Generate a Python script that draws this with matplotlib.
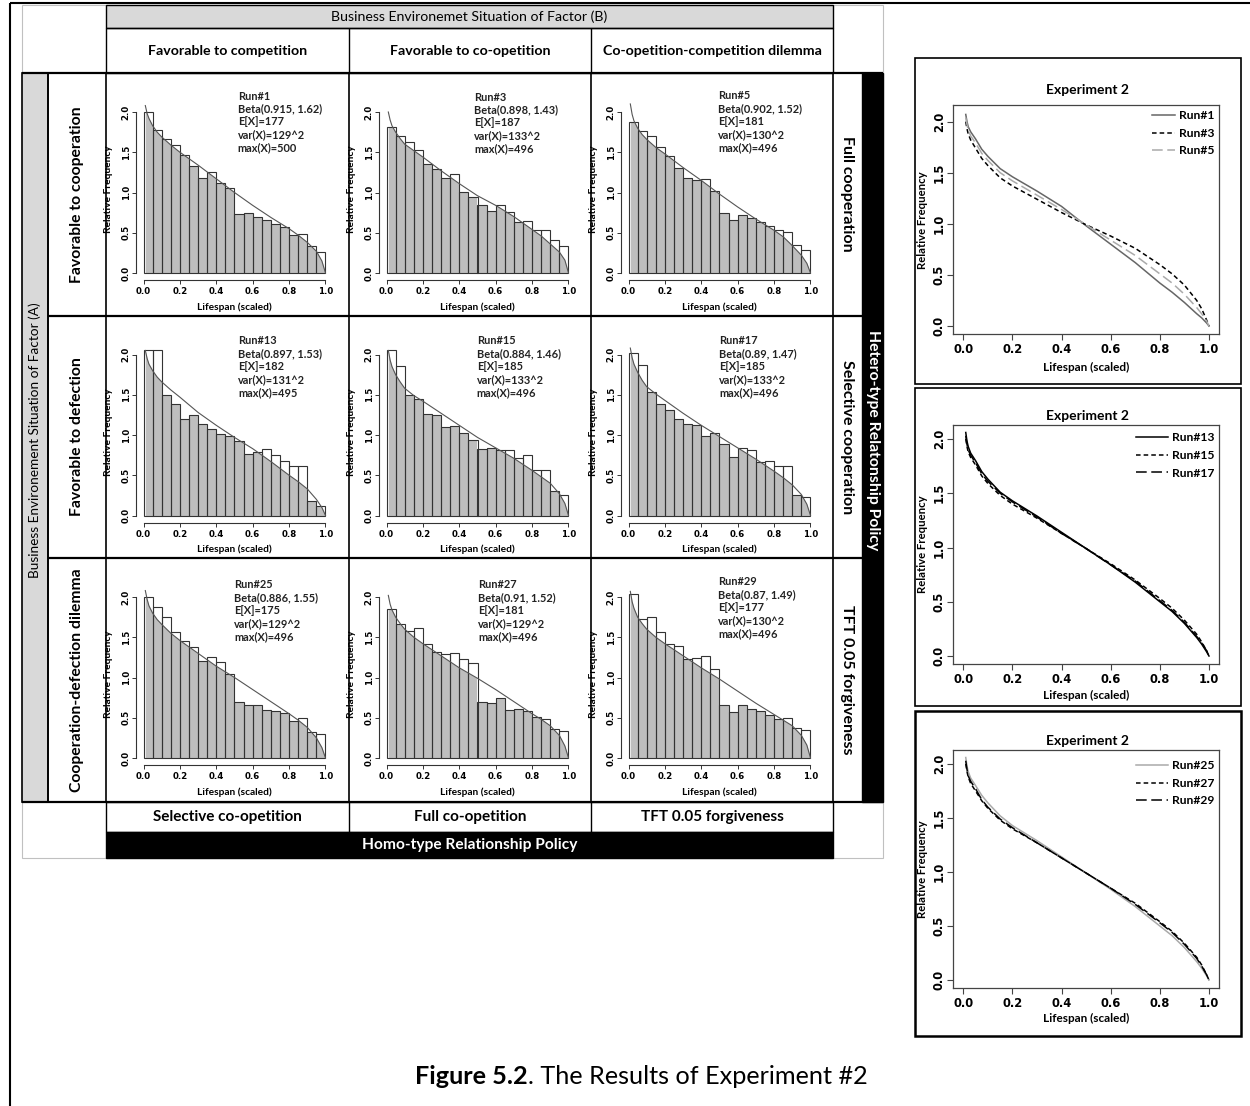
import numpy as np
import matplotlib.pyplot as plt
from matplotlib.patches import Rectangle, PathPatch
from matplotlib.path import Path

plt.rcParams['font.family'] = ['Lato', 'DejaVu Sans']

# ---- histogram panels: 20 bins of width 0.05 on the scaled lifespan ----
bin_edges = np.linspace(0, 1, 21)
runs = ['Run#1', 'Run#3', 'Run#5', 'Run#13', 'Run#15', 'Run#17', 'Run#25', 'Run#27', 'Run#29']
betas = ['0.915, 1.62', '0.898, 1.43', '0.902, 1.52', '0.897, 1.53', '0.884, 1.46',
         '0.89, 1.47', '0.886, 1.55', '0.91, 1.52', '0.87, 1.49']
means = [177, 187, 181, 182, 185, 185, 175, 181, 177]
sds = [129, 133, 130, 131, 133, 133, 129, 129, 130]
maxes = [500, 496, 496, 495, 496, 496, 496, 496, 496]

hist1 = [2.00, 1.78, 1.67, 1.59, 1.46, 1.33, 1.18, 1.26, 1.12, 1.06, 0.73, 0.74, 0.70, 0.66, 0.61, 0.57, 0.47, 0.48, 0.33, 0.26]
hist3 = [1.81, 1.70, 1.63, 1.53, 1.36, 1.29, 1.18, 1.23, 1.01, 0.94, 0.85, 0.77, 0.84, 0.76, 0.63, 0.65, 0.54, 0.54, 0.41, 0.33]
hist5 = [1.88, 1.76, 1.70, 1.56, 1.45, 1.31, 1.18, 1.15, 1.17, 1.02, 0.75, 0.66, 0.72, 0.68, 0.63, 0.58, 0.53, 0.51, 0.35, 0.29]
hist13 = [2.05, 2.05, 1.50, 1.38, 1.20, 1.25, 1.14, 1.07, 1.01, 0.99, 0.92, 0.77, 0.79, 0.82, 0.75, 0.68, 0.62, 0.62, 0.18, 0.12]
hist15 = [2.06, 1.86, 1.50, 1.45, 1.26, 1.25, 1.10, 1.11, 1.02, 0.94, 0.83, 0.84, 0.81, 0.81, 0.72, 0.75, 0.57, 0.56, 0.30, 0.25]
hist17 = [2.02, 1.87, 1.53, 1.38, 1.31, 1.20, 1.14, 1.13, 0.99, 1.03, 0.89, 0.73, 0.84, 0.81, 0.67, 0.68, 0.61, 0.61, 0.26, 0.23]
hist25 = [2.00, 1.87, 1.75, 1.56, 1.45, 1.38, 1.21, 1.26, 1.19, 1.04, 0.69, 0.66, 0.66, 0.60, 0.58, 0.56, 0.46, 0.50, 0.32, 0.30]
hist27 = [1.85, 1.66, 1.58, 1.61, 1.41, 1.32, 1.29, 1.30, 1.23, 1.18, 0.70, 0.68, 0.75, 0.60, 0.61, 0.58, 0.51, 0.48, 0.36, 0.34]
hist29 = [2.04, 1.73, 1.75, 1.56, 1.41, 1.39, 1.23, 1.24, 1.27, 1.11, 0.66, 0.57, 0.66, 0.61, 0.59, 0.54, 0.49, 0.50, 0.37, 0.35]
hists = [hist1, hist3, hist5, hist13, hist15, hist17, hist25, hist27, hist29]

# fitted density drawn over each histogram
fit_x = [0.01, 0.02, 0.03, 0.05, 0.075, 0.1, 0.15, 0.2, 0.3, 0.4, 0.5, 0.6, 0.7, 0.8, 0.85, 0.9, 0.95, 0.98, 1.0]
fit1 = [2.08, 1.98, 1.92, 1.83, 1.75, 1.69, 1.59, 1.50, 1.34, 1.17, 1.00, 0.84, 0.69, 0.55, 0.47, 0.38, 0.27, 0.15, 0.0]
fit3 = [2.00, 1.90, 1.83, 1.75, 1.67, 1.60, 1.52, 1.44, 1.27, 1.11, 0.96, 0.84, 0.70, 0.54, 0.46, 0.36, 0.26, 0.16, 0.0]
fit5 = [2.10, 1.97, 1.89, 1.80, 1.72, 1.66, 1.56, 1.48, 1.31, 1.15, 0.98, 0.82, 0.67, 0.53, 0.45, 0.34, 0.22, 0.12, 0.0]
fit13 = [2.05, 1.95, 1.88, 1.80, 1.72, 1.66, 1.56, 1.47, 1.28, 1.12, 0.97, 0.83, 0.67, 0.50, 0.42, 0.33, 0.20, 0.10, 0.0]
fit15 = [2.05, 1.93, 1.85, 1.75, 1.66, 1.58, 1.49, 1.42, 1.27, 1.12, 0.97, 0.84, 0.71, 0.56, 0.48, 0.40, 0.27, 0.15, 0.0]
fit17 = [2.08, 1.96, 1.88, 1.78, 1.68, 1.60, 1.51, 1.43, 1.27, 1.12, 0.98, 0.84, 0.70, 0.55, 0.47, 0.38, 0.26, 0.14, 0.0]
fit25 = [2.08, 1.97, 1.89, 1.80, 1.72, 1.66, 1.55, 1.46, 1.30, 1.14, 1.00, 0.85, 0.70, 0.55, 0.47, 0.38, 0.25, 0.13, 0.0]
fit27 = [2.02, 1.91, 1.84, 1.75, 1.67, 1.60, 1.50, 1.42, 1.27, 1.12, 0.99, 0.85, 0.70, 0.55, 0.48, 0.40, 0.28, 0.15, 0.0]
fit29 = [2.07, 1.94, 1.86, 1.75, 1.67, 1.60, 1.50, 1.42, 1.27, 1.12, 0.98, 0.83, 0.68, 0.54, 0.47, 0.40, 0.28, 0.16, 0.0]
fits = [fit1, fit3, fit5, fit13, fit15, fit17, fit25, fit27, fit29]

# ---- comparison curves (right column) ----
cmp_x = [0.01, 0.015, 0.02, 0.03, 0.05, 0.075, 0.1, 0.15, 0.2, 0.3, 0.4, 0.5, 0.6, 0.7,
         0.8, 0.85, 0.9, 0.95, 0.97, 0.99, 1.0]
cmp1 = [2.07, 2.00, 1.95, 1.90, 1.83, 1.73, 1.66, 1.54, 1.46, 1.32, 1.17, 0.98, 0.80, 0.62,
        0.42, 0.33, 0.23, 0.12, 0.08, 0.03, 0.0]
cmp3 = [2.00, 1.93, 1.88, 1.82, 1.74, 1.64, 1.57, 1.45, 1.37, 1.24, 1.11, 0.99, 0.88, 0.76,
        0.60, 0.51, 0.40, 0.25, 0.17, 0.06, 0.0]
cmp5 = [2.04, 1.97, 1.92, 1.86, 1.79, 1.69, 1.62, 1.50, 1.42, 1.28, 1.14, 0.99, 0.84, 0.69,
        0.51, 0.42, 0.31, 0.18, 0.12, 0.05, 0.0]
cmp13 = [2.06, 1.98, 1.93, 1.87, 1.80, 1.70, 1.63, 1.51, 1.43, 1.29, 1.14, 0.99, 0.84, 0.68,
         0.50, 0.41, 0.30, 0.17, 0.11, 0.04, 0.0]
cmp15 = [2.00, 1.93, 1.88, 1.83, 1.76, 1.66, 1.59, 1.48, 1.40, 1.27, 1.13, 0.99, 0.85, 0.70,
         0.53, 0.44, 0.33, 0.20, 0.13, 0.05, 0.0]
cmp17 = [2.03, 1.95, 1.90, 1.85, 1.78, 1.68, 1.61, 1.50, 1.42, 1.28, 1.13, 0.99, 0.84, 0.69,
         0.51, 0.42, 0.31, 0.18, 0.12, 0.05, 0.0]
cmp25 = [2.06, 1.98, 1.93, 1.87, 1.80, 1.71, 1.64, 1.52, 1.43, 1.29, 1.14, 0.99, 0.84, 0.68,
         0.50, 0.41, 0.30, 0.17, 0.11, 0.04, 0.0]
cmp27 = [2.00, 1.93, 1.88, 1.82, 1.75, 1.66, 1.59, 1.48, 1.40, 1.27, 1.13, 0.99, 0.85, 0.71,
         0.54, 0.45, 0.34, 0.21, 0.14, 0.05, 0.0]
cmp29 = [2.03, 1.95, 1.89, 1.84, 1.77, 1.67, 1.60, 1.49, 1.41, 1.27, 1.13, 0.99, 0.85, 0.70,
         0.53, 0.44, 0.33, 0.20, 0.13, 0.05, 0.0]
cmp_groups = [(['Run#1', 'Run#3', 'Run#5'], [cmp1, cmp3, cmp5]),
              (['Run#13', 'Run#15', 'Run#17'], [cmp13, cmp15, cmp17]),
              (['Run#25', 'Run#27', 'Run#29'], [cmp25, cmp27, cmp29])]

col_labels = ['Favorable to competition', 'Favorable to co-opetition', 'Co-opetition-competition dilemma']
row_labels = ['Favorable to cooperation', 'Favorable to defection', 'Cooperation-defection dilemma']
right_labels = ['Full cooperation', 'Selective cooperation', 'TFT 0.05 forgiveness']
bottom_labels = ['Selective co-opetition', 'Full co-opetition', 'TFT 0.05 forgiveness']

W, H = 1250, 1106
fig = plt.figure(figsize=(W / 100, H / 100), dpi=100)


def frac(x0, y0, x1, y1):
    # pixel box (top-left origin) -> figure fraction rect
    return [x0 / W, 1 - y1 / H, (x1 - x0) / W, (y1 - y0) / H]


bg = fig.add_axes([0, 0, 1, 1])
bg.set_xlim(0, W)
bg.set_ylim(H, 0)
bg.axis('off')


def rect(x0, y0, x1, y1, fc='none', ec='black', lw=1.0):
    bg.add_patch(Rectangle((x0, y0), x1 - x0, y1 - y0, facecolor=fc, edgecolor=ec, linewidth=lw))


def line(xs, ys, lw=1.0, c='black'):
    bg.plot(xs, ys, color=c, lw=lw, solid_capstyle='butt')


# page frame
line([10, W], [3, 3], lw=1.5)
line([10, 10], [3, H], lw=1.5)

# table
col_x = [106, 349, 591, 833]
row_y = [73, 315.5, 558, 802]
rect(22, 5, 883, 858, ec='#c0c0c0', lw=0.8)
rect(106, 5, 833, 28, fc='#d9d9d9', lw=1.0)
rect(106, 28, 833, 73, lw=1.0)
for x in col_x[1:3]:
    line([x, x], [28, 73])
    line([x, x], [802, 832])
rect(22, 73, 48, 802, fc='#d9d9d9', lw=1.2)
rect(862, 73, 883, 802, fc='black', lw=1.0)
for y in [row_y[0], row_y[3]]:
    line([22, 883], [y, y], lw=1.6)
for y in row_y[1:3]:
    line([48, 862], [y, y], lw=1.6)
for x in [48] + col_x:
    line([x, x], [73, 802], lw=1.2)
rect(106, 802, 833, 832, lw=1.0)
rect(106, 832, 833, 858, fc='black', lw=1.0)

bg.text(469.5, 16.5, 'Business Environemet Situation of Factor (B)', ha='center', va='center', fontsize=10.2)
bg.text(35, 440, 'Business Environement Situation of Factor (A)', ha='center', va='center',
        rotation=90, fontsize=9.8)
bg.text(872.5, 440, 'Hetero-type Relatonship Policy', ha='center', va='center', rotation=270,
        fontsize=11.3, fontweight='bold', color='white')
bg.text(469.5, 845, 'Homo-type Relationship Policy', ha='center', va='center',
        fontsize=11.2, fontweight='bold', color='white')
for i in range(3):
    cx = (col_x[i] + col_x[i + 1]) / 2
    cy = (row_y[i] + row_y[i + 1]) / 2
    bg.text(cx, 51, col_labels[i], ha='center', va='center', fontsize=10.2, fontweight='bold')
    bg.text(cx, 817.5, bottom_labels[i], ha='center', va='center', fontsize=11, fontweight='bold')
    bg.text(77, cy, row_labels[i], ha='center', va='center', rotation=90, fontsize=11.3,
            fontweight='bold')
    bg.text(847.5, cy, right_labels[i], ha='center', va='center', rotation=270, fontsize=11.5,
            fontweight='bold')

# right column boxes
rect(915, 58, 1241, 384, lw=1.2)
rect(915, 388, 1241, 706, lw=1.2)
rect(915, 711, 1241, 1036, lw=1.8)

# caption
bg.text(528, 1077, 'Figure 5.2', ha='right', va='center', fontsize=18.2, fontweight='bold')
bg.text(528, 1077, '. The Results of Experiment #2', ha='left', va='center', fontsize=18.2)

tick_font = {'family': 'DejaVu Sans', 'weight': 'bold'}

# ---- histogram grid ----
text_pos = [(131.7, 17.5), (125.3, 18.5), (127.3, 17), (132.3, 20), (127.7, 20),
            (128.3, 20), (128.3, 21), (129.3, 21), (127.3, 18.3)]
ux, uy = 182, 80.5
for k in range(9):
    r, c = divmod(k, 3)
    x0 = col_x[c] + 37.5
    y0 = row_y[r] + 200
    ax = fig.add_axes(frac(x0 - 0.04 * ux, y0 - 2.16 * uy, x0 + 1.04 * ux, y0 + 0.09 * uy))
    ax.set_facecolor('none')
    ax.set_xlim(-0.04, 1.04)
    ax.set_ylim(-0.09, 2.16)

    heights = hists[k]
    ax.bar(bin_edges[:-1], heights, width=0.05, align='edge', facecolor='white',
           edgecolor='none', zorder=1)
    # grey area under the fitted curve, kept inside the bars
    verts, codes = [], []
    for xl, h in zip(bin_edges[:-1], heights):
        verts += [(xl, 0), (xl + 0.05, 0), (xl + 0.05, h), (xl, h), (xl, 0)]
        codes += [Path.MOVETO, Path.LINETO, Path.LINETO, Path.LINETO, Path.CLOSEPOLY]
    clip = PathPatch(Path(verts, codes), transform=ax.transData, facecolor='none', edgecolor='none')
    ax.add_patch(clip)
    fill = ax.fill_between(fit_x, fits[k], 0, color='#bebebe', lw=0, zorder=2)
    fill.set_clip_path(clip)
    ax.bar(bin_edges[:-1], heights, width=0.05, align='edge', fill=False,
           edgecolor='#333333', linewidth=0.8, zorder=3)
    ax.plot(fit_x, fits[k], color='#555555', lw=0.8, zorder=4)

    for s in ['top', 'right']:
        ax.spines[s].set_visible(False)
    ax.spines['left'].set_bounds(0, 2)
    ax.spines['bottom'].set_bounds(0, 1)
    ax.spines['left'].set_color('#333333')
    ax.spines['bottom'].set_color('#333333')
    ax.set_yticks([0, 0.5, 1.0, 1.5, 2.0])
    ax.set_yticklabels(['0.0', '0.5', '1.0', '1.5', '2.0'], rotation=90, va='center',
                       fontsize=6.2, fontdict=tick_font)
    ax.set_xticks([0, 0.2, 0.4, 0.6, 0.8, 1.0])
    ax.set_xticklabels(['0.0', '0.2', '0.4', '0.6', '0.8', '1.0'], fontsize=6.2, fontdict=tick_font)
    ax.tick_params(axis='both', length=3, width=0.7, color='#333333')
    ax.tick_params(axis='y', pad=1)
    ax.tick_params(axis='x', pad=2)
    ax.set_ylabel('Relative Frequency', fontsize=7.3, fontweight='bold')
    ax.set_xlabel('Lifespan (scaled)', fontsize=7.3, fontweight='bold')
    ax.yaxis.set_label_coords(-0.117, 0.5)
    ax.xaxis.set_label_coords(0.5, -0.122)

    tx, ty = text_pos[k]
    info = '%s\nBeta(%s)\nE[X]=%d\nvar(X)=%d^2\nmax(X)=%d' % (runs[k], betas[k], means[k], sds[k], maxes[k])
    fig.text((col_x[c] + tx) / W, 1 - (row_y[r] + ty) / H, info, ha='left', va='top',
             fontsize=7.9, fontweight='bold', color='#222222', linespacing=1.22)

# ---- comparison plots ----
cmp_zero = [326, 656, 980]
cmp_unit = [102.2, 108.5, 108]
cmp_ylim = [(-0.08, 2.16), (-0.07, 2.13), (-0.07, 2.13)]
xlabel_off = [-0.12, -0.11, -0.105]
title_y = [90, 416, 741]
legend_top = [109, 431, 759]
styles = [
    [('#666666', '-'), ('black', (0, (3, 2))), ('#aaaaaa', (0, (7, 3)))],
    [('black', '-'), ('black', (0, (3, 2))), ('black', (0, (7, 3)))],
    [('#aaaaaa', '-'), ('black', (0, (3, 2))), ('black', (0, (7, 3)))],
]
cx0, cux = 963.3, 245.7
for g, (names, curves) in enumerate(cmp_groups):
    y0, u = cmp_zero[g], cmp_unit[g]
    lo, hi = cmp_ylim[g]
    left, right = cx0 - 0.04 * cux, cx0 + 1.04 * cux
    top, bottom = y0 - hi * u, y0 - lo * u
    ax = fig.add_axes(frac(left, top, right, bottom))
    ax.set_facecolor('none')
    ax.set_xlim(-0.04, 1.04)
    ax.set_ylim(lo, hi)
    for name, ys, (col, ls) in zip(names, curves, styles[g]):
        ax.plot(cmp_x, ys, color=col, linestyle=ls, lw=1.1, label=name)
    for s in ax.spines.values():
        s.set_color('#444444')
        s.set_linewidth(0.9)
    ax.set_yticks([0, 0.5, 1.0, 1.5, 2.0])
    ax.set_yticklabels(['0.0', '0.5', '1.0', '1.5', '2.0'], rotation=90, va='center',
                       fontsize=8.3, fontdict=tick_font)
    ax.set_xticks([0, 0.2, 0.4, 0.6, 0.8, 1.0])
    ax.set_xticklabels(['0.0', '0.2', '0.4', '0.6', '0.8', '1.0'], fontsize=8.3, fontdict=tick_font)
    ax.tick_params(axis='both', length=4, width=0.8, color='#444444')
    ax.tick_params(axis='y', pad=1.5)
    ax.tick_params(axis='x', pad=2.5)
    ax.set_ylabel('Relative Frequency', fontsize=8.2, fontweight='bold')
    ax.set_xlabel('Lifespan (scaled)', fontsize=8.5, fontweight='bold')
    ax.yaxis.set_label_coords(-0.095, 0.5)
    ax.xaxis.set_label_coords(0.5, xlabel_off[g])
    fig.text(1088 / W, 1 - title_y[g] / H, 'Experiment 2', ha='center', va='center',
             fontsize=10, fontweight='bold')
    lt = (legend_top[g] - top) / (bottom - top)
    ax.legend(loc='upper right', bbox_to_anchor=(0.99, 1 - lt), frameon=False,
              prop={'family': 'Lato', 'weight': 'bold', 'size': 8.7},
              handlelength=1.9 if g == 0 else 2.6, handletextpad=0.4,
              labelspacing=0.55, borderpad=0.1, borderaxespad=0)

fig.savefig('out.png', dpi=100)
